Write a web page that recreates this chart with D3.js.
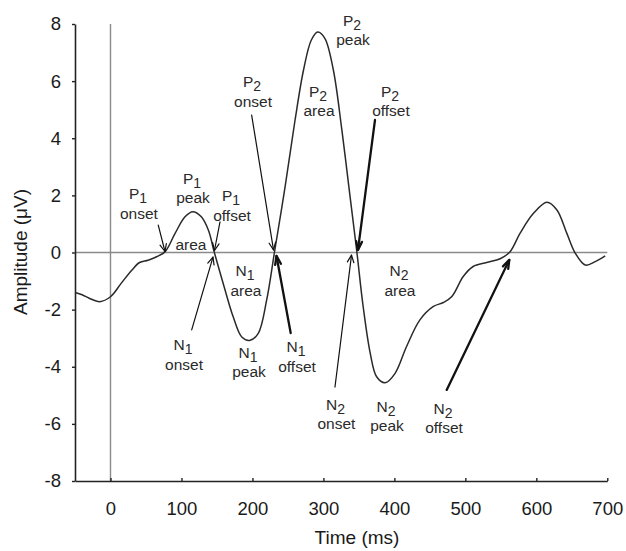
<!DOCTYPE html>
<html>
<head>
<meta charset="utf-8">
<script src="https://cdn.jsdelivr.net/npm/d3@7"></script>
<style>
  html, body { margin: 0; padding: 0; background: #fff; }
  svg { display: block; font-family: "Liberation Sans", Arial, Helvetica, sans-serif; }
</style>
</head>
<body>
<div id="chart"></div>
<script>
// ---- data ----
const times = [-50,-40,-30,-15,0,15,30,41,53,65,77,91,105,116,128,138,146,159,173,185,196,208,220,231,246,260,272,283,292,302,314,326,337,347,356,366,375,387,401,417,436,455,469,481,497,511,530,549,563,577,596,615,629,643,655,669,683,697];
const amplitudes = [-1.40,-1.48,-1.60,-1.72,-1.55,-1.08,-0.62,-0.35,-0.27,-0.15,0.03,0.67,1.25,1.43,1.25,0.78,0.03,-1.10,-2.26,-2.96,-3.08,-2.84,-1.67,0.00,2.30,4.63,6.39,7.44,7.72,7.50,6.39,4.29,2.07,0.05,-1.89,-3.53,-4.35,-4.56,-4.23,-3.30,-2.36,-1.89,-1.75,-1.54,-0.84,-0.49,-0.35,-0.22,0.03,0.67,1.37,1.76,1.49,0.67,-0.03,-0.44,-0.32,-0.12];

const xTicks = [0,100,200,300,400,500,600,700];
const yTicks = [-8,-6,-4,-2,0,2,4,6,8];
const xTitle = "Time (ms)";
const yTitle = "Amplitude (\u03BCV)";

// annotation labels: component symbol, subscript, word, anchor (time, amplitude)
const labelSym  = ["P","P","P","","N","N","N","N","P","P","P","P","N","N","N","N"];
const labelSub  = ["1","1","1","","1","1","1","1","2","2","2","2","2","2","2","2"];
const labelWord = ["onset","peak","offset","area","area","onset","peak","offset","onset","peak","area","offset","onset","peak","area","offset"];
const labelT    = [38.7,114.8,169.8,113.4,189.5,102.2,193.7,261.4,199.4,340.3,292.4,393.8,317.0,388.2,406.5,468.5];
const labelV    = [1.87,2.40,1.80,0.09,-0.84,-3.43,-3.69,-3.50,5.79,7.93,5.46,5.46,-5.51,-5.58,-0.84,-5.64];

// arrows: from (t,v) to (t,v), bold flag
const arrowT0 = [67.3,154.3,114.4,253.9,198.9,372.7,316.3,473.7];
const arrowV0 = [0.96,1.07,-2.71,-2.82,4.81,4.64,-4.71,-4.81];
const arrowT1 = [76.8,146.5,144.4,233.9,229.7,348.7,339.6,561.9];
const arrowV1 = [0.035,0.07,-0.16,-0.12,0.09,0.09,-0.09,-0.26];
const arrowBold = [false,false,false,true,false,true,false,true];

// ---- layout ----
const W = 626, H = 551;
const svg = d3.select("#chart").append("svg").attr("width", W).attr("height", H);

const x = d3.scaleLinear().domain([-50, 700]).range([75, 607.3]);
const y = d3.scaleLinear().domain([-8, 8]).range([481, 24]);

// zero reference lines
svg.append("line").attr("x1", x(-50)).attr("x2", x(700)).attr("y1", y(0)).attr("y2", y(0))
  .attr("stroke", "#8a8a8a").attr("stroke-width", 1.6);
svg.append("line").attr("x1", x(0)).attr("x2", x(0)).attr("y1", y(8)).attr("y2", y(-8))
  .attr("stroke", "#8a8a8a").attr("stroke-width", 1.4);

// axes
const fmt = d => String(d);
const yAxis = svg.append("g").attr("transform", `translate(${x(-50)},0)`)
  .call(d3.axisLeft(y).tickValues(yTicks).tickSizeInner(3).tickSizeOuter(0).tickPadding(11).tickFormat(fmt));
const xAxis = svg.append("g").attr("transform", `translate(0,${y(-8)})`)
  .call(d3.axisBottom(x).tickValues(xTicks).tickSizeInner(-3).tickSizeOuter(0).tickPadding(21).tickFormat(fmt));
[yAxis, xAxis].forEach(g => {
  g.select(".domain").attr("stroke", "#222").attr("stroke-width", 1.6);
  g.selectAll(".tick line").attr("stroke", "#222").attr("stroke-width", 1.4);
  g.selectAll(".tick text").attr("fill", "#1a1a1a").style("font-size", "18.5px")
   .style("font-family", "'Liberation Sans', Arial, sans-serif");
});
xAxis.selectAll(".tick text").attr("dy", "0.71em");

// titles
svg.append("text").attr("x", 357).attr("y", 544).attr("text-anchor", "middle")
  .attr("fill", "#1a1a1a").style("font-size", "19px").text(xTitle);
svg.append("text").attr("transform", "translate(27,252) rotate(-90)").attr("text-anchor", "middle")
  .attr("fill", "#1a1a1a").style("font-size", "19px").text(yTitle);

// waveform
const pts = times.map((t, i) => [t, amplitudes[i]]);
const line = d3.line().x(d => x(d[0])).y(d => y(d[1])).curve(d3.curveCatmullRom.alpha(0.5));
svg.append("path").datum(pts).attr("d", line).attr("fill", "none")
  .attr("stroke", "#2a2a2a").attr("stroke-width", 1.5);

// arrows
arrowT0.forEach((t0, i) => {
  const x0 = x(t0), y0 = y(arrowV0[i]), x1 = x(arrowT1[i]), y1 = y(arrowV1[i]);
  const sw = arrowBold[i] ? 2.3 : 1.2;
  const ang = Math.atan2(y1 - y0, x1 - x0);
  const len = arrowBold[i] ? 9 : 8, spread = arrowBold[i] ? 0.33 : 0.42;
  const g = svg.append("g").attr("stroke", "#111").attr("fill", "none")
    .attr("stroke-width", sw).attr("stroke-linecap", "round").attr("stroke-linejoin", "round");
  g.append("line").attr("x1", x0).attr("y1", y0).attr("x2", x1).attr("y2", y1);
  const hx1 = x1 - len * Math.cos(ang - spread), hy1 = y1 - len * Math.sin(ang - spread);
  const hx2 = x1 - len * Math.cos(ang + spread), hy2 = y1 - len * Math.sin(ang + spread);
  g.append("path").attr("d", `M${hx1},${hy1}L${x1},${y1}L${hx2},${hy2}`);
});

// labels
labelWord.forEach((w, i) => {
  const cx = x(labelT[i]), by = y(labelV[i]);
  if (labelSym[i]) {
    const t = svg.append("text").attr("x", cx).attr("y", by).attr("text-anchor", "middle")
      .attr("fill", "#2a2a2a").style("font-size", "15.5px");
    t.append("tspan").text(labelSym[i]);
    t.append("tspan").attr("dy", 4).style("font-size", "14px").text(labelSub[i]);
    svg.append("text").attr("x", cx + 1).attr("y", by + 19.5).attr("text-anchor", "middle")
      .attr("fill", "#2a2a2a").style("font-size", "15.5px").text(w);
  } else {
    svg.append("text").attr("x", cx).attr("y", by).attr("text-anchor", "middle")
      .attr("fill", "#2a2a2a").style("font-size", "15.5px").text(w);
  }
});
</script>
</body>
</html>
